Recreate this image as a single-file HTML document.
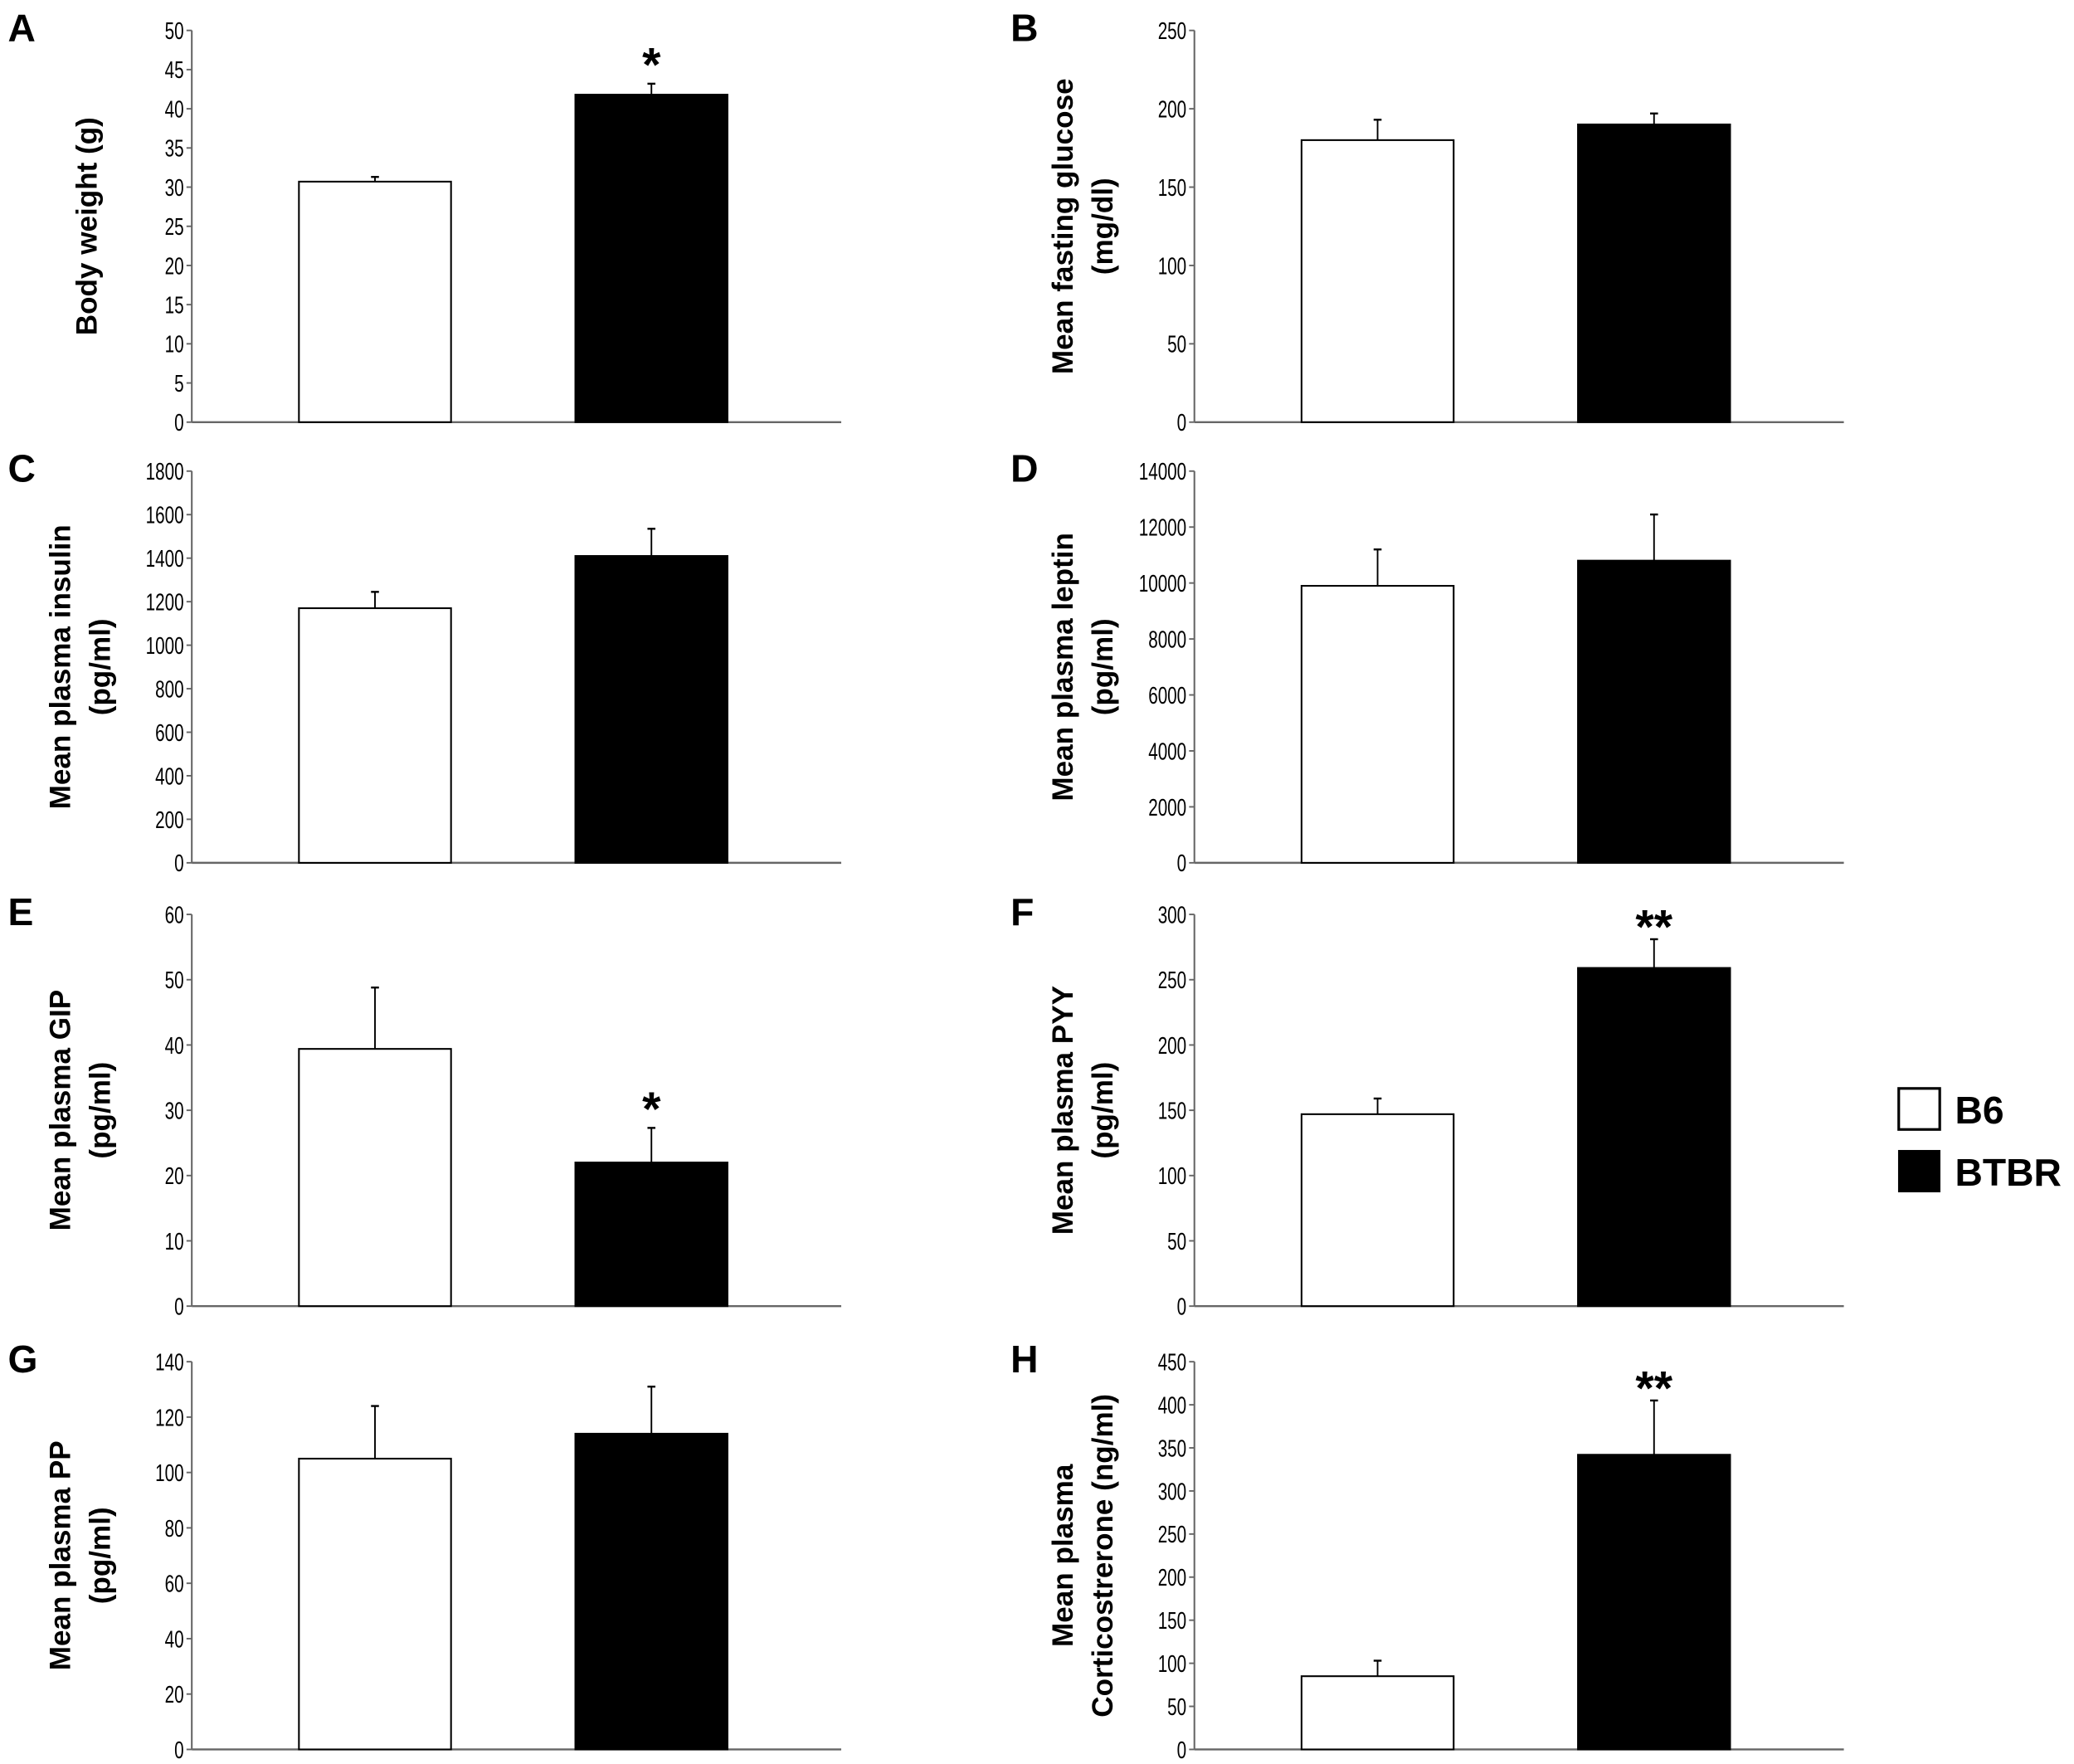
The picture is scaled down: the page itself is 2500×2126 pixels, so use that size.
<!DOCTYPE html>
<html><head><meta charset="utf-8"><style>
html,body{margin:0;padding:0;background:#fff;}
svg{display:block;}
text{font-family:"Liberation Sans",Arial,sans-serif;}
</style></head><body>
<svg id="fig" width="2500" height="2126" viewBox="0 0 1568 1333" preserveAspectRatio="none" xmlns="http://www.w3.org/2000/svg">
<g>
<rect x="1435.5" y="822.5" width="31" height="31" fill="#fff" stroke="#000" stroke-width="2"/>
<text x="1478" y="849" font-size="29" font-weight="bold">B6</text>
<rect x="1435" y="869" width="32" height="32" fill="#000"/>
<text x="1478" y="896" font-size="29" font-weight="bold">BTBR</text>
</g>
</svg>
<script>
const panelLetters = ["A","B","C","D","E","F","G","H"];
const titles = [["Body weight (g)"],["Mean fasting glucose","(mg/dl)"],["Mean plasma insulin","(pg/ml)"],["Mean plasma leptin","(pg/ml)"],["Mean plasma GIP","(pg/ml)"],["Mean plasma PYY","(pg/ml)"],["Mean plasma PP","(pg/ml)"],["Mean plasma","Corticostrerone (ng/ml)"]];
const b6Values = [30.7,180,1170,9900,39.4,147,105,85];
const b6Errors = [0.6,13,75,1300,9.4,12,19,18];
const btbrValues = [41.8,190,1410,10800,22,259,114,342];
const btbrErrors = [1.4,7,125,1650,5.3,22,17,63];
const yMax = [50,250,1800,14000,60,300,140,450];
const yStep = [5,50,200,2000,10,50,20,50];
const stars = ["*","","","","*","**","","**"];

const NS="http://www.w3.org/2000/svg";
const svg=document.getElementById('fig');
function mk(tag,attrs,parent){const e=document.createElementNS(NS,tag);for(const k in attrs)e.setAttribute(k,attrs[k]);parent.appendChild(e);return e;}
const axX=[145,903], topY=[23,356,691,1029], zeroY=[319,652,987,1322];
for(let i=0;i<8;i++){
  const ax=axX[i%2], ty=topY[Math.floor(i/2)], zy=zeroY[Math.floor(i/2)];
  const g=mk('g',{},svg);
  
  
  const y=v=>zy-(v/yMax[i])*(zy-ty);
  const lt=mk('text',{x:ax-139,y:ty+8,'font-size':29,'font-weight':'bold'},g);
  lt.textContent=panelLetters[i];
  
  
  const ya=mk('line',{x1:ax,y1:ty,x2:ax,y2:zy,stroke:'#666','stroke-width':1.3},g);
  
  
  const xa=mk('line',{x1:ax,y1:zy,x2:ax+491,y2:zy,stroke:'#666','stroke-width':1.5},g);
  
  
  for(let v=0;v<=yMax[i]+1e-9;v+=yStep[i]){
    const t=mk('line',{x1:ax-4,y1:y(v),x2:ax,y2:y(v),stroke:'#666','stroke-width':1.2},g);
    
    
    const tl=mk('text',{x:ax-6,y:y(v)+6.5,'font-size':18,'text-anchor':'end',transform:`translate(${ax-6},0) scale(0.72,1) translate(${-(ax-6)},0)`},g);
    tl.textContent=String(v);
    
    
  }
  const lines=titles[i], cy=(ty+zy)/2;
  const offs=lines.length===1?[-80]:[-100,-70];
  lines.forEach((s,k)=>{
    const tx=ax+offs[k]+8;
    const tt=mk('text',{x:tx,y:cy,'font-size':22,'font-weight':'bold','text-anchor':'middle',transform:`rotate(-90 ${tx} ${cy})`},g);
    tt.textContent=s;
    
    
  });
  const series=[[b6Values[i],b6Errors[i],81,'#fff'],[btbrValues[i],btbrErrors[i],290,'#000']];
  series.forEach((s,k)=>{
    const [v,e,off,fill]=s, bx=ax+off, bw=115, cx=bx+bw/2;
    const el=mk('line',{x1:cx,y1:y(v),x2:cx,y2:y(v+e),stroke:'#000','stroke-width':1.2},g);
    
    
    const cap=mk('line',{x1:cx-3,y1:y(v+e),x2:cx+3,y2:y(v+e),stroke:'#000','stroke-width':1.5},g);
    
    
    const r=mk('rect',{x:bx,y:y(v),width:bw,height:zy-y(v),fill:fill,stroke:'#000','stroke-width':1.3},g);
    
    
    if(k===1&&stars[i]){
      const st=mk('text',{x:cx,y:y(v+e)+(stars[i]==='*'?-2:3),'font-size':36,'font-weight':'bold','text-anchor':'middle'},g);
      st.textContent=stars[i];
      
      
    }
  });
}
</script>
</body></html>
